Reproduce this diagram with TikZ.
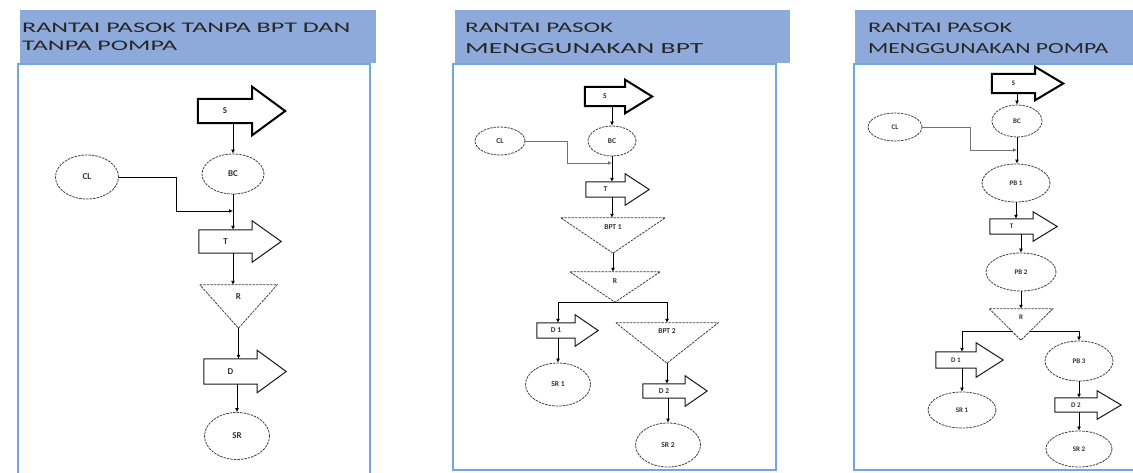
\documentclass[tikz,border=0pt]{standalone}
\usepackage{fontspec}
\setmainfont{Carlito}
\usetikzlibrary{calc,arrows.meta,shapes.geometric}
\definecolor{hdrblue}{HTML}{8EAADB}
\definecolor{boxblue}{HTML}{6FA8DC}
\definecolor{txtdark}{HTML}{262626}
\newcommand\blockarrow[4][]{\draw[#1] (#2.south west) -- (#2.north west) -- (#2.north east) -- ++(0,-#4) -- ($(#2.east)+(#3,0)$) -- ($(#2.south east)+(0,#4)$) -- (#2.south east) -- cycle;}
\newcommand\trishape[2][]{\draw[#1] (#2.north west) -- (#2.north east) -- (#2.south) -- cycle;}
\begin{document}
\begin{tikzpicture}[x=1pt,y=-1pt,
  ell/.style={ellipse, draw=black!75, dash pattern=on 2.5pt off 1pt, line width=0.8pt, inner sep=0, fill=white},
  body/.style={rectangle, inner sep=0, draw=none},
  tribox/.style={rectangle, inner sep=0, draw=none},
  tri/.style={draw=black!75, dash pattern=on 2.5pt off 1pt, line width=0.8pt},
  arr/.style={draw=black!90, line width=1pt},
  arrb/.style={draw=black, line width=2pt},
  flow/.style={draw=black, line width=0.8pt, -{Latex[length=4pt,width=4pt]}},
  flowg/.style={flow, draw=black!55},
  hdr/.style={fill=hdrblue, draw=none},
  pbox/.style={draw=boxblue, line width=2pt},
  htext/.style={anchor=base west, inner sep=0, text=txtdark},
  lblA/.style={font=\fontsize{9}{10}\selectfont\bfseries, text=black!80},
  lblB/.style={font=\fontsize{7.5}{8}\selectfont\bfseries, text=black!80},
  lblC/.style={font=\fontsize{7}{8}\selectfont\bfseries, text=black!80}]
\useasboundingbox (0,0) rectangle (1133,472);
\fill[white] (0,0) rectangle (1133,472);
% panel frames
\draw[pbox] (18,64) rectangle (370,490);
\draw[pbox] (453,64) rectangle (776,470);
\draw[pbox] (854,64) rectangle (1150,470);
% headers
\fill[hdr] (20,10) rectangle (376,63);
\fill[hdr] (455,10) rectangle (790,63);
\fill[hdr] (855,10) rectangle (1140,63);
\node[htext] (h1a) at (22,32) {\resizebox{328pt}{9.5pt}{RANTAI PASOK TANPA BPT DAN}};
\node[htext] (h1b) at (22,50.5) {\resizebox{155pt}{9.5pt}{TANPA POMPA}};
\node[htext] (h2a) at (465,32) {\resizebox{148pt}{9.5pt}{RANTAI PASOK}};
\node[htext] (h2b) at (465,53) {\resizebox{238pt}{10pt}{MENGGUNAKAN BPT}};
\node[htext] (h3a) at (868,32) {\resizebox{144pt}{9.5pt}{RANTAI PASOK}};
\node[htext] (h3b) at (868,53) {\resizebox{240pt}{10pt}{MENGGUNAKAN POMPA}};

% ---------- panel 1 ----------
\node[body, minimum width=54, minimum height=24, lblA] (S1) at (225,111) {S};
\blockarrow[arrb]{S1}{33}{12}
\node[ell, minimum width=62, minimum height=40, lblA] (BC1) at (233,174) {BC};
\node[ell, minimum width=63, minimum height=44, lblA] (CL1) at (87,177) {CL};
\coordinate (J1) at (233,211);
\node[body, minimum width=53, minimum height=23, lblA] (T1) at (225.5,241.5) {T};
\blockarrow[arr]{T1}{29}{9}
\node[tribox, minimum width=77, minimum height=43] (R1) at (238.5,306.5) {};
\trishape[tri]{R1}
\node[lblA, inner sep=0] (R1l) at ($(R1.north)+(0,12)$) {R};
\node[body, minimum width=53, minimum height=25, lblA] (D1) at (230.5,371.5) {D};
\blockarrow[arr]{D1}{29}{8.5}
\node[ell, minimum width=65, minimum height=47, lblA] (SR1) at (237,436) {SR};
\draw[flow] (S1.south -| BC1) -- (BC1.north);
\draw[flow] (CL1.east) -- ++(57.5,0) |- (J1);
\draw[flow] (BC1.south) -- (BC1.south |- T1.north);
\draw[flow] (T1.south -| BC1) -- (BC1 |- R1.north);
\draw[flow] (R1.south) -- (R1.south |- D1.north);
\draw[flow] (D1.south -| SR1) -- (SR1.north);

% ---------- panel 2 ----------
\node[body, minimum width=40, minimum height=19, lblB] (S2) at (605,96.5) {S};
\blockarrow[arrb]{S2}{27}{7}
\node[ell, minimum width=48, minimum height=30, lblB] (BC2) at (612,141) {BC};
\node[ell, minimum width=50, minimum height=28, lblB] (CL2) at (500,141) {CL};
\coordinate (J2) at (612,163);
\node[body, minimum width=39, minimum height=15, lblB] (T2) at (605.5,189.5) {T};
\blockarrow[arr]{T2}{24}{8}
\node[tribox, minimum width=104, minimum height=35] (BPT1) at (613,235.5) {};
\trishape[tri]{BPT1}
\node[lblB, inner sep=0] (BPT1l) at ($(BPT1.north)+(0,9)$) {BPT 1};
\node[tribox, minimum width=90, minimum height=30] (R2) at (615,287) {};
\trishape[tri]{R2}
\node[lblB, inner sep=0] (R2l) at ($(R2.north)+(0,9)$) {R};
\node[body, minimum width=38, minimum height=15, lblB] (D12) at (556,330.5) {D 1};
\blockarrow[arr]{D12}{23}{8}
\node[ell, minimum width=65, minimum height=43, lblB] (SR12) at (558,384.5) {SR 1};
\node[tribox, minimum width=102, minimum height=40] (BPT2) at (667,343) {};
\trishape[tri]{BPT2}
\node[lblB, inner sep=0] (BPT2l) at ($(BPT2.north)+(0,8)$) {BPT 2};
\node[body, minimum width=42, minimum height=14, lblB] (D22) at (664,391) {D 2};
\blockarrow[arr]{D22}{22}{8}
\node[ell, minimum width=65, minimum height=44, lblB] (SR22) at (668,445) {SR 2};
\draw[flow] (S2.south -| BC2) -- (BC2.north);
\draw[flowg] (CL2.east) -- ++(42,0) |- (J2);
\draw[flow] (BC2.south) -- (BC2.south |- T2.north);
\draw[flow] (T2.south -| BC2) -- (BC2 |- BPT1.north);
\draw[flow] (BPT1.south) -- (BPT1.south |- R2.north);
\draw[flow] (R2.south) -| (D12.north -| SR12);
\draw[flow] (D12.south -| SR12) -- (SR12.north);
\draw[flow] (R2.south) -| (BPT2.north);
\draw[flow] (BPT2.south) -- (BPT2.south |- D22.north);
\draw[flow] (D22.south -| SR22) -- (SR22.north);

% ---------- panel 3 ----------
\node[body, minimum width=43, minimum height=19, lblC] (S3) at (1013.5,83.5) {S};
\blockarrow[arrb]{S3}{28}{7}
\node[ell, minimum width=50, minimum height=32, lblC] (BC3) at (1017,121) {BC};
\node[ell, minimum width=54, minimum height=28, lblC] (CL3) at (895,127) {CL};
\coordinate (J3) at (1017,150);
\node[ell, minimum width=68, minimum height=38, lblC] (PB13) at (1016,183) {PB 1};
\node[body, minimum width=43, minimum height=15, lblC] (T3) at (1011.5,226.5) {T};
\blockarrow[arr]{T3}{24}{7}
\node[ell, minimum width=70, minimum height=38, lblC] (PB23) at (1021,272) {PB 2};
\node[tribox, minimum width=63, minimum height=31] (R3) at (1021,324.5) {};
\trishape[tri]{R3}
\node[lblC, inner sep=0] (R3l) at ($(R3.north)+(0,8)$) {R};
\coordinate (R3L) at (1012,331);
\coordinate (R3R) at (1030,331);
\node[body, minimum width=40, minimum height=16, lblC] (D13) at (956,360) {D 1};
\blockarrow[arr]{D13}{27}{9}
\node[ell, minimum width=68, minimum height=36, lblC] (SR13) at (962,410) {SR 1};
\node[ell, minimum width=68, minimum height=40, lblC] (PB33) at (1079,361) {PB 3};
\node[body, minimum width=42, minimum height=14, lblC] (D23) at (1076,405) {D 2};
\blockarrow[arr]{D23}{24}{7}
\node[ell, minimum width=66, minimum height=36, lblC] (SR23) at (1079,449) {SR 2};
\draw[flow] (S3.south -| BC3) -- (BC3.north);
\draw[flowg] (CL3.east) -- ++(48,0) |- (J3);
\draw[flow] (BC3.south) -- (BC3.south |- PB13.north);
\draw[flow] (PB13.south) -- (PB13.south |- T3.north);
\draw[flow] (T3.south -| PB23) -- (PB23.north);
\draw[flow] (PB23.south) -- (R3.north);
\draw[flow] (R3L) -| (D13.north -| SR13);
\draw[flow] (D13.south -| SR13) -- (SR13.north);
\draw[flow] (R3R) -| (PB33.north);
\draw[flow] (PB33.south) -- (PB33.south |- D23.north);
\draw[flow] (D23.south -| SR23) -- (SR23.north);
\end{tikzpicture}
\end{document}
